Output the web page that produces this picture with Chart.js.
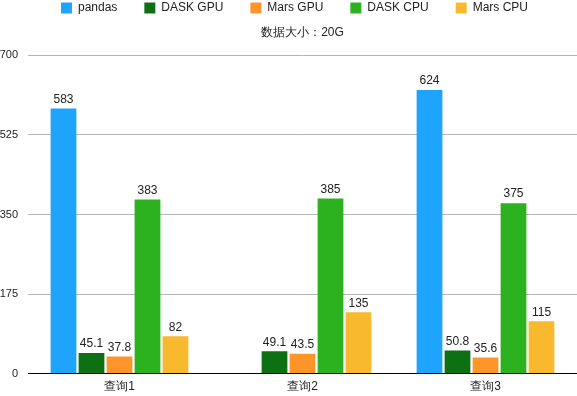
<!DOCTYPE html>
<html>
<head>
<meta charset="utf-8">
<script src="https://cdn.jsdelivr.net/npm/chart.js@4"></script>
<style>
  html, body { margin: 0; padding: 0; background: #fff; }
  #wrap { width: 577px; height: 396px; }
</style>
</head>
<body>
<div id="wrap"><canvas id="chart"></canvas></div>
<script>
const categories = ['查询1', '查询2', '查询3'];
const seriesNames = ['pandas', 'DASK GPU', 'Mars GPU', 'DASK CPU', 'Mars CPU'];
const pandas = [583, null, 624];
const daskGpu = [45.1, 49.1, 50.8];
const marsGpu = [37.8, 43.5, 35.6];
const daskCpu = [383, 385, 375];
const marsCpu = [82, 135, 115];
const yTicks = [0, 175, 350, 525, 700];
const colors = ['#1ea4fc', '#0d7114', '#fd952a', '#2cb21f', '#f9b92e'];

Chart.defaults.font.family = '"Liberation Sans", Arial, sans-serif';
Chart.defaults.color = '#222';

// labels above each bar
const barLabels = {
  id: 'barLabels',
  afterDatasetsDraw(chart) {
    const ctx = chart.ctx;
    ctx.save();
    ctx.font = '12px "Liberation Sans", Arial, sans-serif';
    ctx.fillStyle = '#222';
    ctx.textAlign = 'center';
    ctx.textBaseline = 'bottom';
    chart.data.datasets.forEach((ds, i) => {
      chart.getDatasetMeta(i).data.forEach((bar, j) => {
        const v = ds.data[j];
        if (v == null) return;
        ctx.fillText(String(v), bar.x, bar.y - 3);
      });
    });
    ctx.restore();
  }
};

// nudge legend right a little, and centre the title over the plot area
const boxShift = {
  id: 'boxShift',
  afterLayout(chart) {
    if (chart.legend) {
      chart.legend.left += 6;
      chart.legend.right += 6;
    }
    if (chart.titleBlock) {
      const dx = chart.chartArea.left / 2;
      chart.titleBlock.left += dx;
      chart.titleBlock.right += dx;
    }
  }
};

const allSeries = [pandas, daskGpu, marsGpu, daskCpu, marsCpu];

new Chart(document.getElementById('chart'), {
  type: 'bar',
  data: {
    labels: categories,
    datasets: allSeries.map((d, i) => ({
      label: seriesNames[i],
      data: d,
      backgroundColor: colors[i],
      categoryPercentage: 0.765,
      barPercentage: 0.92
    }))
  },
  options: {
    responsive: true,
    maintainAspectRatio: false,
    animation: false,
    layout: { padding: { left: 0, right: 0, top: -25, bottom: -4 } },
    plugins: {
      legend: {
        weight: 3000,
        labels: { boxWidth: 11, boxHeight: 11, padding: 27, font: { size: 12 } }
      },
      title: {
        display: true,
        text: '数据大小：20G',
        font: { size: 12, weight: 'normal' },
        color: '#222',
        padding: { top: 1, bottom: 16 }
      },
      tooltip: { enabled: false }
    },
    scales: {
      x: {
        grid: { display: false, drawTicks: false },
        border: { color: '#000', width: 1 },
        ticks: { font: { size: 12 }, color: '#222', padding: 6 }
      },
      y: {
        min: 0,
        max: 700,
        afterBuildTicks(axis) { axis.ticks = yTicks.map(v => ({ value: v })); },
        afterFit(axis) { axis.width = 28; },
        grid: { color: '#b4b4b4', drawTicks: false },
        border: { display: false },
        ticks: { font: { size: 11 }, color: '#222', padding: 10 }
      }
    }
  },
  plugins: [barLabels, boxShift]
});
</script>
</body>
</html>
